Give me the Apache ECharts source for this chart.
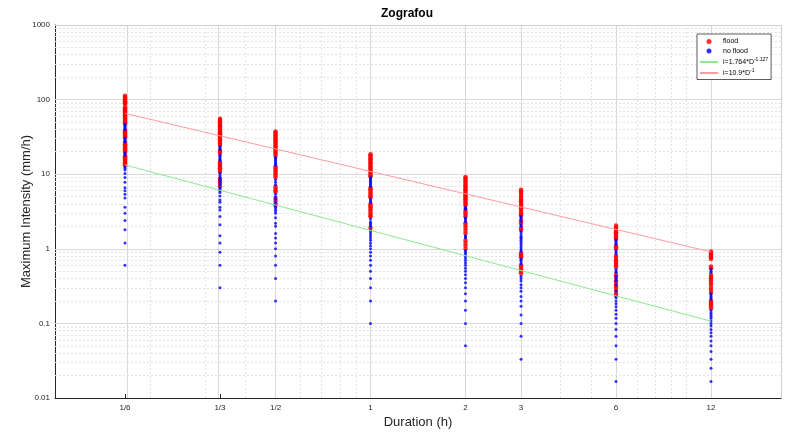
<!DOCTYPE html>
<html><head><meta charset="utf-8">
<script src="https://cdn.jsdelivr.net/npm/echarts@6/dist/echarts.min.js"></script>
<style>html,body{margin:0;padding:0;background:#fff}#c{width:787px;height:437px}</style>
</head><body><div id="c"></div>
<script>
// ---- data ----
const durations = [1/6, 1/3, 1/2, 1, 2, 3, 6, 12];
const durationLabels = ['1/6', '1/3', '1/2', '1', '2', '3', '6', '12'];
const yTickValues = [0.01, 0.1, 1, 10, 100, 1000];
const yTickLabels = ['0.01', '0.1', '1', '10', '100', '1000'];

const flood_10min = [112.2, 108.6, 105, 101.4, 98.4, 95.4, 92.4, 89.4, 87, 79.2, 76.2, 73.8, 71.4, 69, 66.6, 64.2, 61.8, 59.4, 57, 55.2, 53.4, 51.6, 49.8, 48, 38.4, 37.2, 36, 34.8, 33.6, 32.4, 31.2, 26.4, 25.2, 24, 23.4, 22.2, 21, 20.4, 19.8, 17.4, 16.8, 16.2, 15.6, 15, 14.4, 13.8, 13.2];
const noflood_10min = [46.8, 45.6, 44.4, 43.2, 42, 40.8, 39.6, 30.6, 29.4, 28.8, 27.6, 27, 19.2, 18.6, 18, 12.6, 12, 11.4, 10.2, 9, 7.8, 6.6, 6, 5.4, 4.8, 3.6, 3, 2.4, 1.8, 1.2, 0.6];

const flood_20min = [55.2, 53.4, 51.6, 49.8, 48, 46.5, 45, 43.5, 42, 40.5, 39, 37.8, 36.6, 35.4, 34.2, 33, 31.8, 30.6, 29.4, 28.2, 27, 25.8, 24.6, 20.7, 19.8, 19.2, 14.4, 13.8, 13.2, 12.6, 12, 11.4, 10.8, 8.7, 8.1, 7.5, 6.9];
const noflood_20min = [23.4, 22.5, 21.6, 18, 17.4, 16.5, 15.9, 15.3, 10.2, 9.6, 9, 8.4, 7.8, 7.2, 6.6, 6.3, 6, 5.7, 5.1, 4.5, 4.2, 3.6, 3.3, 2.7, 2.1, 1.5, 1.2, 0.9, 0.6, 0.3];

const flood_30min = [37.4, 36, 34.6, 33.2, 31.8, 30.6, 29.4, 28.2, 27, 25.8, 24.6, 23.6, 22.6, 21.6, 20.6, 19.6, 18.6, 17.6, 12.6, 12, 11.4, 10.8, 10.2, 9.6, 9, 6.8, 6.4, 6, 5.8, 4.8, 4.4, 4, 3.8];
const noflood_30min = [16.8, 16.2, 15.6, 15, 14.4, 13.8, 13.2, 8.4, 7.8, 7.2, 5.4, 5, 4.6, 4.2, 3.8, 3.6, 3.4, 3.2, 3, 2.6, 2.2, 2, 1.6, 1.4, 1.2, 1, 0.8, 0.6, 0.4, 0.2];

const flood_1h = [18.5, 17.8, 17.1, 16.4, 15.8, 15.2, 14.6, 14, 13.4, 12.8, 12.2, 11.7, 11.2, 10.7, 10.2, 9.7, 9.3, 6.6, 6.3, 6, 5.7, 5.4, 5.1, 4.9, 4, 3.8, 3.6, 3.4, 3.2, 3, 2.8, 2.7, 1.9];
const noflood_1h = [9, 8.7, 8.4, 8.1, 7.8, 7.5, 7.2, 6.9, 4.6, 4.4, 4.2, 2.5, 2.3, 2.2, 2.1, 2, 1.8, 1.7, 1.6, 1.5, 1.4, 1.3, 1.2, 1.1, 1, 0.9, 0.8, 0.7, 0.6, 0.5, 0.4, 0.3, 0.2, 0.1];

const flood_2h = [9.2, 8.8, 8.4, 8, 7.6, 7.2, 6.9, 6.6, 6.3, 6, 5.7, 5.4, 5.2, 5, 4.8, 4.6, 4.4, 4.2, 4, 3.8, 3.3, 3.1, 2.9, 2.7, 2.2, 2.05, 1.9, 1.75, 1.6, 1.3, 1.2, 1.1, 1];
const noflood_2h = [3.6, 3.5, 3.4, 2.6, 2.5, 2.4, 2.3, 1.5, 1.45, 1.4, 0.95, 0.9, 0.85, 0.8, 0.75, 0.7, 0.65, 0.6, 0.55, 0.5, 0.45, 0.4, 0.35, 0.3, 0.25, 0.2, 0.15, 0.1, 0.05];

const flood_3h = [6.2, 5.9, 5.6, 5.3, 5, 4.7, 4.5, 4.3, 4.1, 3.9, 3.7, 3.5, 3.3, 3.1, 2.9, 2.8, 2.4, 2.2, 1.9, 1.8, 0.87, 0.83, 0.8, 0.77, 0.6, 0.57, 0.53, 0.5, 0.47];
const noflood_3h = [2.7, 2.6, 2.5, 2.33, 2.1, 2, 1.7, 1.6, 1.5, 1.43, 1.37, 1.3, 1.23, 1.17, 1.1, 1.03, 0.97, 0.93, 0.73, 0.7, 0.67, 0.63, 0.43, 0.4, 0.37, 0.33, 0.3, 0.27, 0.23, 0.2, 0.17, 0.13, 0.1, 0.067, 0.033];

const flood_6h = [2.05, 1.95, 1.85, 1.75, 1.67, 1.6, 1.53, 1.47, 1.4, 1.35, 1.1, 1.05, 1.0, 0.8, 0.75, 0.7, 0.67, 0.63, 0.6, 0.57, 0.45, 0.42, 0.38, 0.35, 0.32, 0.3, 0.28, 0.25, 0.24];
const noflood_6h = [1.3, 1.25, 1.2, 1.15, 0.95, 0.9, 0.85, 0.53, 0.5, 0.48, 0.43, 0.4, 0.37, 0.33, 0.27, 0.23, 0.22, 0.2, 0.183, 0.167, 0.15, 0.133, 0.117, 0.1, 0.083, 0.067, 0.05, 0.033, 0.0167];

const flood_12h = [0.92, 0.88, 0.84, 0.8, 0.77, 0.73, 0.58, 0.55, 0.45, 0.42, 0.4, 0.38, 0.35, 0.33, 0.3, 0.28, 0.26, 0.2, 0.19, 0.18, 0.17, 0.16];
const noflood_12h = [0.53, 0.5, 0.48, 0.25, 0.24, 0.23, 0.22, 0.21, 0.15, 0.14, 0.133, 0.125, 0.117, 0.108, 0.1, 0.092, 0.083, 0.075, 0.067, 0.058, 0.05, 0.042, 0.033, 0.025, 0.0167];

const floodByDuration = [flood_10min, flood_20min, flood_30min, flood_1h, flood_2h, flood_3h, flood_6h, flood_12h];
const nofloodByDuration = [noflood_10min, noflood_20min, noflood_30min, noflood_1h, noflood_2h, noflood_3h, noflood_6h, noflood_12h];

// fitted curves, end points
const fitDurations = [1/6, 12];
const fitLowValues = [13.3, 0.107];   // i = 1.764*D^-1.127
const fitHighValues = [65.4, 0.908];  // i = 10.9*D^-1

// ---- build ----
const FONT = '"Liberation Sans", Arial, Helvetica, sans-serif';
function toPoints(groups) {
  const out = [];
  groups.forEach((vals, i) => vals.forEach(v => out.push([durations[i], v])));
  return out;
}
function pickLabel(v, vals, labels) {
  for (let i = 0; i < vals.length; i++) {
    if (Math.abs(Math.log(v / vals[i])) < 1e-3) return labels[i];
  }
  return '';
}
// minor tick / grid positions (axis decoration)
const xMinor = [], yMinor = [];
[0.1, 1, 10].forEach(d => { for (let k = 2; k <= 9; k++) { const v = d * k; if (v <= 20.0001) xMinor.push(v); } });
xMinor.push(10);
[0.01, 0.1, 1, 10, 100].forEach(d => { for (let k = 2; k <= 9; k++) yMinor.push(d * k); });

const majorLine = { color: '#d9d9d9', width: 1, type: 'solid' };
const minorLine = { color: '#e3e3e3', width: 1, type: [2, 2] };
const frameLine = { color: '#cfcfcf', width: 1, type: 'solid' };
const ml = [];
xMinor.forEach(v => ml.push({ xAxis: v, lineStyle: minorLine }));
yMinor.forEach(v => ml.push({ yAxis: v, lineStyle: minorLine }));
durations.forEach(v => ml.push({ xAxis: v, lineStyle: majorLine }));
[0.1, 1, 10, 100].forEach(v => ml.push({ yAxis: v, lineStyle: majorLine }));
ml.push({ xAxis: 20, lineStyle: frameLine });
ml.push({ yAxis: 1000, lineStyle: frameLine });

const legendText = {
  'flood': '{b|flood}',
  'no flood': '{b|no flood}',
  'fitLow': '{b|i=1.764*D}{s|-1.127}',
  'fitHigh': '{b|i=10.9*D}{s|-1}'
};

const chart = echarts.init(document.getElementById('c'), null, { renderer: 'canvas' });
const axisColor = '#262626';
chart.setOption({
  animation: false,
  backgroundColor: '#ffffff',
  title: {
    text: 'Zografou', left: 381, top: 8, padding: 0,
    textStyle: { fontFamily: FONT, fontSize: 12, fontWeight: 'bold', color: '#000' }
  },
  grid: { left: 55, right: 6, top: 25, bottom: 39, containLabel: false },
  legend: {
    orient: 'vertical', left: 697, top: 34,
    data: [
      { name: 'flood' },
      { name: 'no flood' },
      { name: 'fitLow', itemStyle: { opacity: 0 } },
      { name: 'fitHigh', itemStyle: { opacity: 0 } }
    ],
    itemWidth: 18, itemHeight: 5, itemGap: 2.5,
    padding: [4, 3, 3, 2],
    backgroundColor: '#fff', borderColor: '#333', borderWidth: 0.8, borderRadius: 0,
    formatter: n => legendText[n],
    textStyle: {
      fontFamily: FONT, color: '#000',
      rich: {
        b: { fontSize: 7, lineHeight: 10, fontFamily: FONT, color: '#000' },
        s: { fontSize: 5, lineHeight: 5, verticalAlign: 'top', fontFamily: FONT, color: '#000' }
      }
    }
  },
  xAxis: [
    {
      type: 'log', logBase: 10, min: 0.1, max: 20, position: 'bottom',
      name: 'Duration (h)', nameLocation: 'middle', nameGap: 18, nameMoveOverlap: false,
      nameTextStyle: { fontFamily: FONT, fontSize: 13, color: axisColor },
      axisLine: { show: true, onZero: false, lineStyle: { color: axisColor, width: 1 } },
      axisTick: { show: true, inside: true, length: 4, customValues: durations, lineStyle: { color: axisColor } },
      axisLabel: { show: true, customValues: durations, formatter: v => pickLabel(v, durations, durationLabels),
        margin: 6, fontSize: 8, color: axisColor, fontFamily: FONT },
      splitLine: { show: false }
    },
    {
      type: 'log', logBase: 10, min: 0.1, max: 20, position: 'bottom',
      axisLine: { show: false }, axisLabel: { show: false },
      axisTick: { show: true, inside: true, length: 2, customValues: xMinor, lineStyle: { color: axisColor } },
      splitLine: { show: false }
    }
  ],
  yAxis: [
    {
      type: 'log', logBase: 10, min: 0.01, max: 1000, position: 'left',
      name: 'Maximum Intensity (mm/h)', nameLocation: 'middle', nameGap: 22, nameMoveOverlap: false,
      nameTextStyle: { fontFamily: FONT, fontSize: 13, color: axisColor },
      axisLine: { show: true, onZero: false, lineStyle: { color: axisColor, width: 1 } },
      axisTick: { show: true, inside: true, length: 4, customValues: yTickValues, lineStyle: { color: axisColor } },
      axisLabel: { show: true, customValues: yTickValues, formatter: v => pickLabel(v, yTickValues, yTickLabels),
        margin: 5, fontSize: 8, color: axisColor, fontFamily: FONT },
      splitLine: { show: false }
    },
    {
      type: 'log', logBase: 10, min: 0.01, max: 1000, position: 'left',
      axisLine: { show: false }, axisLabel: { show: false },
      axisTick: { show: true, inside: true, length: 2, customValues: yMinor, lineStyle: { color: axisColor } },
      splitLine: { show: false }
    }
  ],
  series: [
    {
      name: 'grid', type: 'scatter', data: [], silent: true, clip: false, z: 1,
      markLine: { silent: true, z: 1, symbol: ['none', 'none'], label: { show: false }, animation: false, data: ml }
    },
    {
      name: 'flood', type: 'scatter', xAxisIndex: 0, yAxisIndex: 0,
      data: toPoints(floodByDuration), symbol: 'circle', symbolSize: 4.5,
      itemStyle: { color: '#ff0000' }, z: 2, silent: true
    },
    {
      name: 'no flood', type: 'scatter', xAxisIndex: 0, yAxisIndex: 0,
      data: toPoints(nofloodByDuration), symbol: 'circle', symbolSize: 3,
      itemStyle: { color: '#0000ff' }, z: 3, silent: true
    },
    {
      name: 'fitLow', type: 'line', xAxisIndex: 0, yAxisIndex: 0,
      data: fitDurations.map((d, i) => [d, fitLowValues[i]]), symbol: 'none', showSymbol: false,
      lineStyle: { color: '#8fe88f', width: 1 }, itemStyle: { color: 'rgba(0,0,0,0)' }, z: 4, silent: true
    },
    {
      name: 'fitHigh', type: 'line', xAxisIndex: 0, yAxisIndex: 0,
      data: fitDurations.map((d, i) => [d, fitHighValues[i]]), symbol: 'none', showSymbol: false,
      lineStyle: { color: '#ff9b9b', width: 1 }, itemStyle: { color: 'rgba(0,0,0,0)' }, z: 4, silent: true
    }
  ]
});
</script>
</body></html>
